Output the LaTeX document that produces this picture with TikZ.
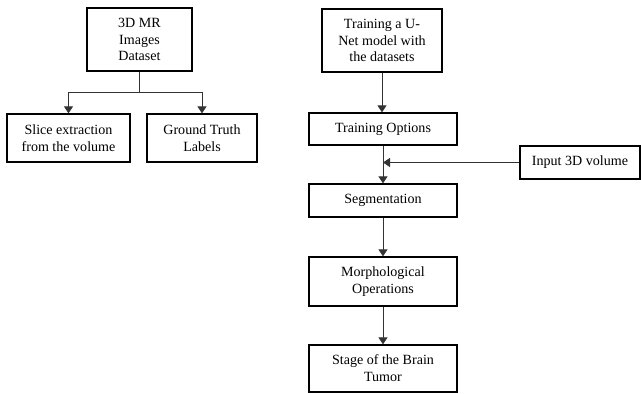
\documentclass[tikz,border=0pt]{standalone}
\usepackage{fontspec}
\setmainfont{Liberation Serif}
\usetikzlibrary{arrows.meta}
\tikzset{
  box/.style={draw=black, line width=0.9pt, fill=white, align=center,
    inner sep=0pt, font=\fontsize{10}{12}\selectfont},
  flow/.style={draw=black!80, line width=0.6pt, -{Triangle[length=5pt,width=6.5pt]}}
}
\begin{document}
\begin{tikzpicture}[x=0.025cm,y=-0.025cm]
            \useasboundingbox (0,0) rectangle (641,394);
            % dataset part
            \node[box, minimum width=105*0.025cm, minimum height=63*0.025cm] (data) at (139.5,39.5) {3D MR\\Images\\Dataset};
            \node[box, minimum width=123*0.025cm, minimum height=48*0.025cm] (slice) at (68.5,138) {Slice extraction\\from the volume};
            \node[box, minimum width=110*0.025cm, minimum height=48*0.025cm] (truth) at (202,138) {Ground Truth\\Labels};
            \coordinate (split) at (139.5,92);
            \draw[draw=black!80, line width=0.6pt] (data.south) -- (split);
            \draw[flow] (split) -| (slice.north);
            \draw[flow] (split) -| (truth.north);
            % training part
            \node[box, minimum width=120*0.025cm, minimum height=63*0.025cm] (unet) at (382,40.5) {Training a U-\\Net model with\\the datasets};
            \node[box, minimum width=148*0.025cm, minimum height=32*0.025cm] (options) at (383,129) {Training Options};
            \node[box, minimum width=148*0.025cm, minimum height=33*0.025cm] (seg) at (383,200.5) {Segmentation};
            \node[box, minimum width=148*0.025cm, minimum height=49*0.025cm] (morph) at (383,281.5) {Morphological\\Operations};
            \node[box, minimum width=148*0.025cm, minimum height=47*0.025cm] (stage) at (383,368.5) {Stage of the Brain\\Tumor};
            \node[box, minimum width=120*0.025cm, minimum height=33*0.025cm] (input) at (580,162.5) {Input 3D volume};
            \coordinate (join) at (options.south |- input.west);
            \draw[flow] (unet.south) -- (unet.south |- options.north);
            \draw[flow] (options.south) -- (seg.north);
            \draw[flow] (input.west) -- (join);
            \draw[flow] (seg.south) -- (morph.north);
            \draw[flow] (morph.south) -- (stage.north);
        \end{tikzpicture}
\end{document}
